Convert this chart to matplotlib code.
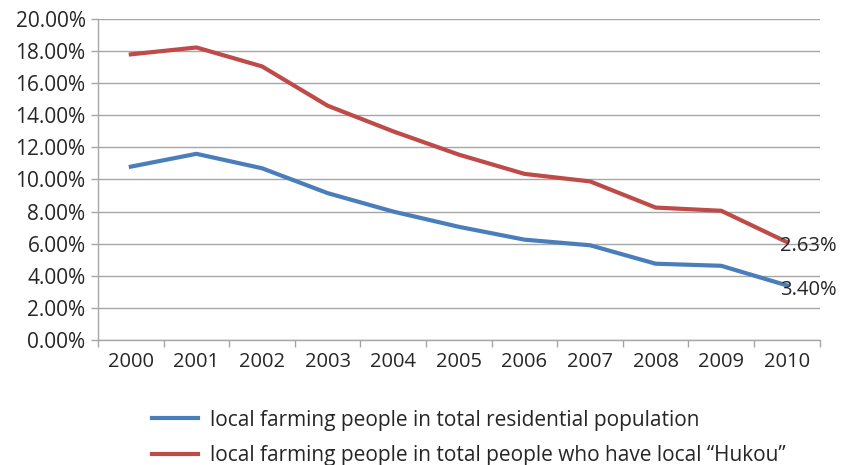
import matplotlib
matplotlib.use("Agg")
import matplotlib.pyplot as plt
from matplotlib.lines import Line2D
from matplotlib.ticker import FixedLocator, FuncFormatter

years = ["2000", "2001", "2002", "2003", "2004", "2005", "2006", "2007", "2008", "2009", "2010"]
residential = [10.8, 11.6, 10.7, 9.15, 8.0, 7.05, 6.25, 5.9, 4.75, 4.62, 3.40]
hukou = [17.8, 18.23, 17.05, 14.6, 13.0, 11.55, 10.35, 9.88, 8.25, 8.05, 6.1]
end_labels = ["3.40%", "2.63%"]
series_names = [
    "local farming people in total residential population",
    "local farming people in total people who have local \u201cHukou\u201d",
]
y_ticks = [0, 2, 4, 6, 8, 10, 12, 14, 16, 18, 20]

BLUE = "#4A7EBB"
RED = "#BE4B48"
GRID = "#A6A6A6"
TEXT = "#262626"

plt.rcParams["font.family"] = ["Open Sans", "DejaVu Sans"]

fig = plt.figure(figsize=(8.45, 4.65), dpi=100)
ax = fig.add_axes([0.116, 0.269, 0.854, 0.690])

x = list(range(len(years)))
ax.plot(x, residential, color=BLUE, lw=3.0, solid_joinstyle="round", zorder=3)
ax.plot(x, hukou, color=RED, lw=3.0, solid_joinstyle="round", zorder=3)

ax.set_xlim(-0.5, len(years) - 0.5)
ax.set_ylim(0, 20)
ax.yaxis.set_major_locator(FixedLocator(y_ticks))
ax.yaxis.set_major_formatter(FuncFormatter(lambda v, p: f"{v:.2f}%"))
ax.set_xticks(x)
ax.set_xticklabels(years)
ax.set_xticks([i - 0.5 for i in range(len(years) + 1)], minor=True)

ax.grid(axis="y", color=GRID, lw=1.0, zorder=0)
ax.set_axisbelow(True)
for side in ("top", "right"):
    ax.spines[side].set_visible(False)
for side in ("left", "bottom"):
    ax.spines[side].set_color(GRID)
    ax.spines[side].set_linewidth(1.0)

ax.tick_params(axis="x", which="major", length=0, pad=9, labelsize=14.5, colors=TEXT)
ax.tick_params(axis="x", which="minor", length=5, color=GRID, width=1.0)
ax.tick_params(axis="y", length=5, color=GRID, width=1.0, labelsize=15, labelcolor=TEXT, pad=4)

# value labels at the end of each line
for vals, text in zip((residential, hukou), end_labels):
    ax.annotate(text, (x[-1], vals[-1]), xytext=(-5, -3), textcoords="offset points",
                ha="left", va="center", fontsize=14.5, color=TEXT, zorder=4)

handles = [Line2D([0], [0], color=BLUE, lw=3.0), Line2D([0], [0], color=RED, lw=3.0)]
fig.legend(handles, series_names, loc="upper left", bbox_to_anchor=(0.17, 0.137),
           frameon=False, fontsize=15, handlelength=2.2, handletextpad=0.6,
           labelspacing=0.7, borderaxespad=0, labelcolor=TEXT)

fig.savefig("out.png", dpi=100, facecolor="white")
